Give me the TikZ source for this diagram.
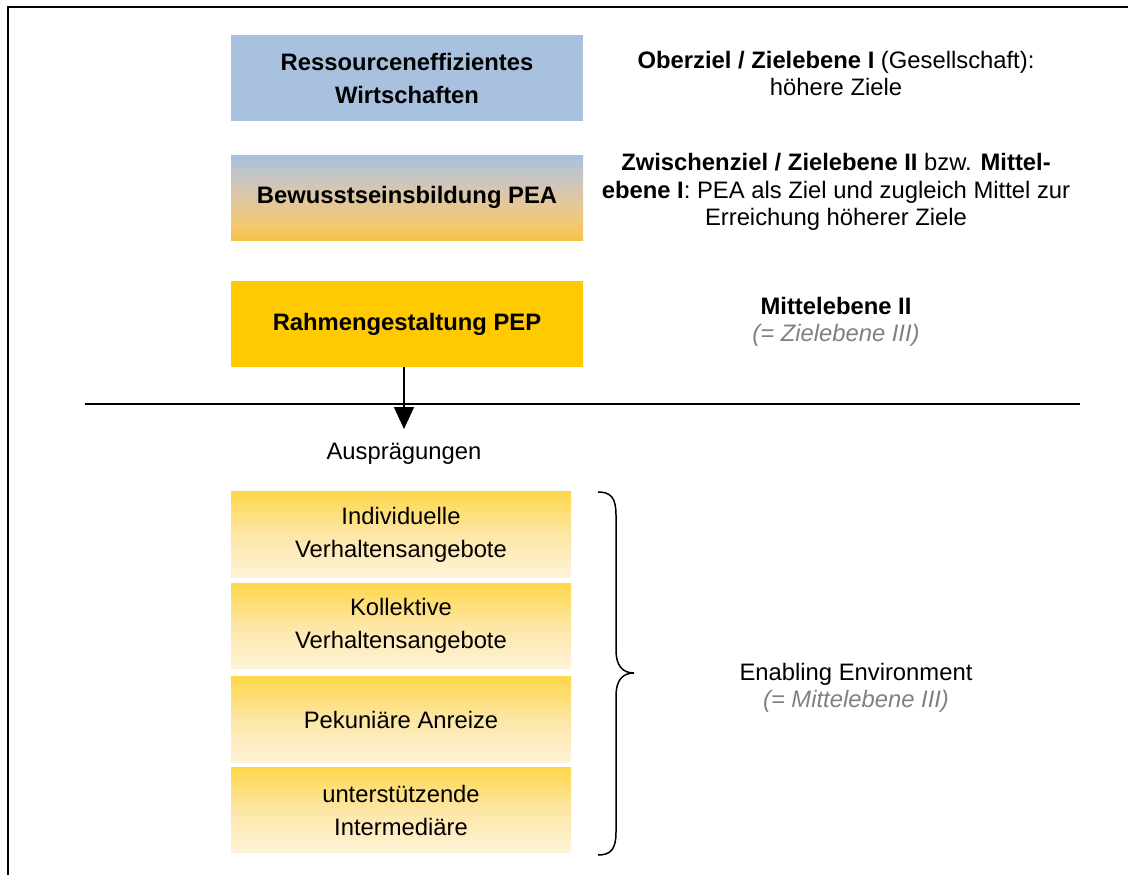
\documentclass[tikz,border=0pt]{standalone}
\usepackage{fontspec}
\setmainfont{Liberation Sans}
\usetikzlibrary{arrows.meta}

\definecolor{steel}{HTML}{A8C1DF}
\definecolor{amber}{HTML}{FFCA00}
\definecolor{amberdeep}{HTML}{F7BE10}
\definecolor{amberlight}{HTML}{FDE6A6}
\definecolor{cream}{HTML}{FFF6E2}
\definecolor{dusk}{HTML}{D6C6B2}
\definecolor{peach}{HTML}{F3C874}
\definecolor{note}{HTML}{808080}

% blue sky fading into amber (used for the intermediate goal)
\pgfdeclareverticalshading{bluegold}{100bp}{%
  color(0bp)=(amberdeep); color(12bp)=(amberdeep); color(35bp)=(peach);
  color(55bp)=(dusk); color(75bp)=(steel); color(100bp)=(steel)}
% amber top fading into cream (used for the forms of the framework)
\pgfdeclareverticalshading{goldcream}{100bp}{%
  color(0bp)=(cream); color(20bp)=(cream); color(50bp)=(amberlight);
  color(85bp)=(amber!85!white); color(100bp)=(amber)}

\tikzset{
  bigtext/.style={font=\fontsize{23.8}{33}\selectfont},
  sidetext/.style={font=\fontsize{23.8}{27.3}\selectfont, align=center, inner sep=0pt},
  levelbox/.style={rectangle, draw=none, minimum width=352pt, minimum height=86pt,
    inner sep=0pt, align=center, bigtext},
  formbox/.style={rectangle, draw=none, minimum width=340pt, minimum height=85.5pt,
    inner sep=0pt, align=center, bigtext, shading=goldcream},
  frameline/.style={line width=2.6pt},
  divider/.style={line width=1.8pt},
  flow/.style={line width=1.5pt, -{Triangle[width=20pt,length=22pt]}},
  bracestyle/.style={line width=1.5pt}
}

\begin{document}
\begin{tikzpicture}[x=1pt,y=-1pt]
  \useasboundingbox (0,0) rectangle (1128,875);

  % frame (top and left edges)
  \draw[frameline] (8,875) -- (8,7) -- (1128,7);

  % levels of goals and means
  \node[levelbox, fill=steel] (r1) at (407,78) {\bfseries Ressourceneffizientes\\\bfseries Wirtschaften};
  \node[levelbox, minimum height=85pt, shading=bluegold] (r2) at (407,197.5) {\bfseries Bewusstseinsbildung PEA};
  \node[levelbox, fill=amber] (r3) at (407,324) {\bfseries Rahmengestaltung PEP};

  % descriptions of the levels
  \node[sidetext] (d1) at (836,73.5) {\textbf{Oberziel / Zielebene I} (Gesellschaft):\\höhere Ziele};
  \node[sidetext] (d2) at (836,192) {\textbf{Zwischenziel / Zielebene II} bzw. \textbf{Mittel-}\\\textbf{ebene I}: PEA als Ziel und zugleich Mittel zur\\Erreichung höherer Ziele};
  \node[sidetext] (d3) at (836,322) {\textbf{Mittelebene II}\\\textcolor{note}{\itshape (= Zielebene III)}};

  % separation line and flow downwards
  \coordinate (divl) at (85,404);
  \coordinate (divr) at (1080,404);
  \coordinate (arrowtip) at (404,429);
  \coordinate (arrowstart) at (404,367);
  \draw[divider] (divl) -- (divr);
  \draw[flow] (arrowstart) -- (arrowtip);
  \node[sidetext] (ausp) at (404,454) {Ausprägungen};

  % forms of the framework
  \node[formbox] (f1) at (401,534.5) {Individuelle\\Verhaltensangebote};
  \node[formbox] (f2) at (401,626) {Kollektive\\Verhaltensangebote};
  \node[formbox] (f3) at (401,719.5) {Pekuniäre Anreize};
  \node[formbox] (f4) at (401,810) {unterstützende\\Intermediäre};

  % curly brace grouping the forms
  \draw[bracestyle] (598,492) .. controls (611,492) and (616,498) .. (616,515)
    -- (616,650) .. controls (616,665) and (622,673) .. (634,673)
    .. controls (622,673) and (616,681) .. (616,696)
    -- (616,832) .. controls (616,849) and (611,855) .. (598,855);

  \node[sidetext] (env) at (856,688) {Enabling Environment\\\textcolor{note}{\itshape (= Mittelebene III)}};
\end{tikzpicture}
\end{document}
